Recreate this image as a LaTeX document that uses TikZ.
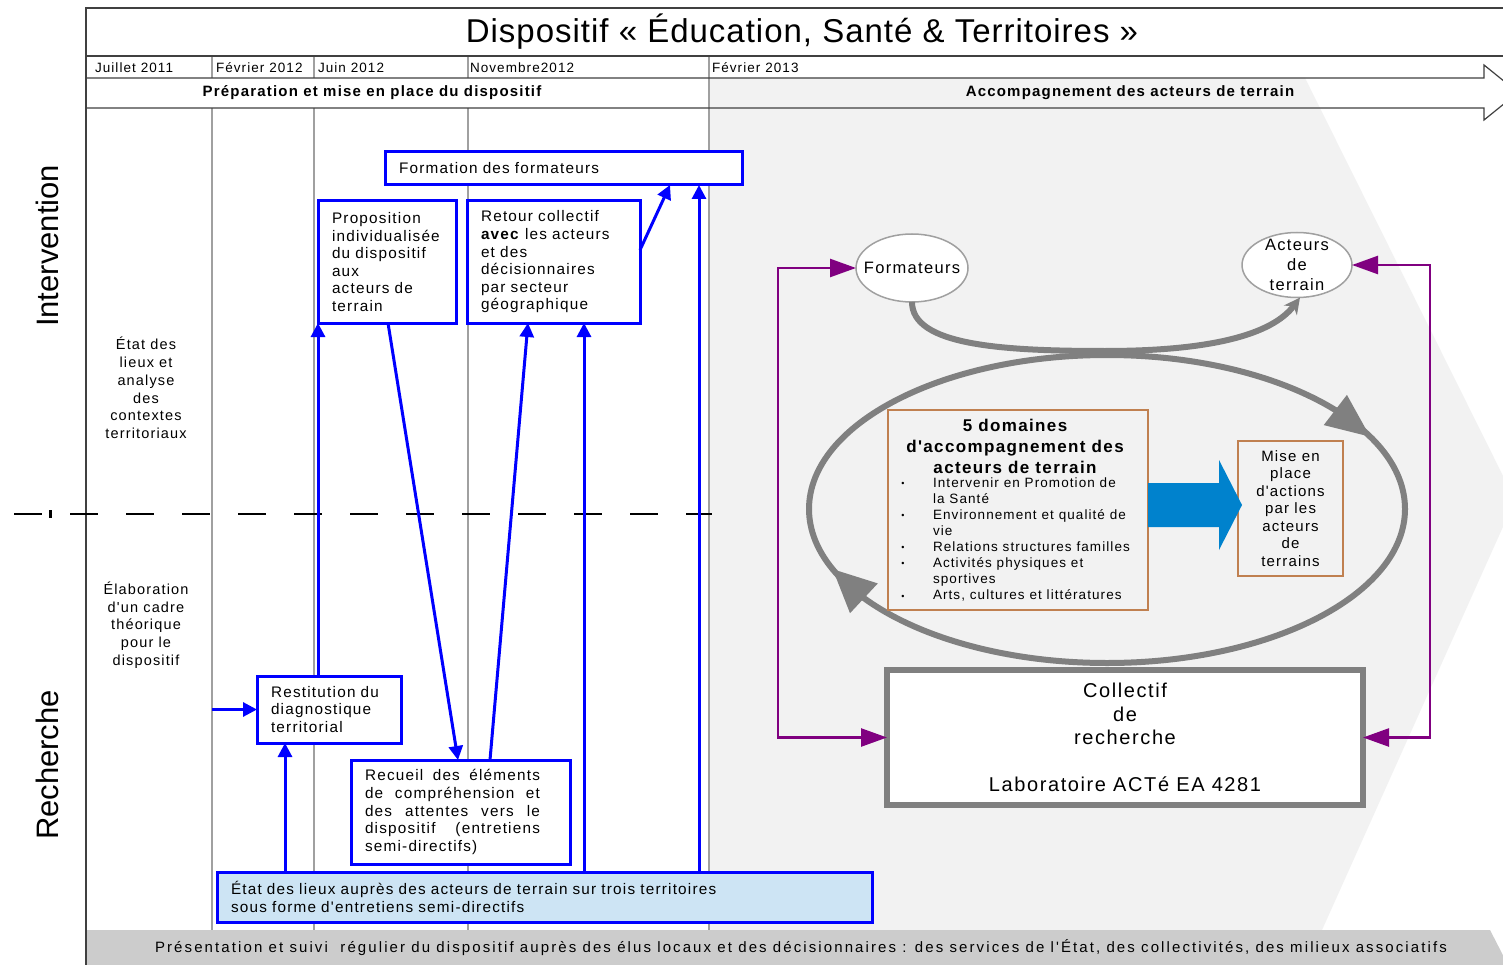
\documentclass[tikz,border=0pt]{standalone}
\usepackage{fontspec}
\setmainfont{Liberation Sans}[LetterSpace=8,Ligatures=TeXOff]
\newfontfamily\titlefont{Liberation Sans}[LetterSpace=3,Ligatures=TeXOff]
\newfontfamily\plainfont{Liberation Sans}[Ligatures=TeXOff]
\newfontfamily\widefont{Liberation Sans}[LetterSpace=14,Ligatures=TeXOff]
\usetikzlibrary{arrows.meta,shapes.geometric,calc}
\definecolor{bblue}{RGB}{0,0,255}
\definecolor{lblue}{RGB}{205,228,244}
\definecolor{arrblue}{RGB}{0,130,205}
\definecolor{brownb}{RGB}{192,128,80}
\definecolor{mpurple}{RGB}{128,0,128}
\definecolor{bgray}{RGB}{242,242,242}
\definecolor{bargray}{RGB}{204,204,204}
\definecolor{lgray}{RGB}{160,160,160}
\definecolor{dgray}{RGB}{128,128,128}
\definecolor{framec}{RGB}{64,64,64}
\newcommand\fsz[2]{\fontsize{#1}{#2}\selectfont}
\newcommand\jline[1]{\makebox[175pt][l]{#1}}
\tikzset{
  bbox/.style={draw=bblue, line width=3pt, fill=white, inner xsep=14pt, inner ysep=0pt, align=left, font=\fsz{15.3}{17.6}},
  barrow/.style={draw=bblue, line width=3pt, -{Triangle[length=14pt,width=14pt]}},
  parrow/.style={draw=mpurple, line width=2.5pt, {Triangle[length=26pt,width=18pt]}-{Triangle[length=26pt,width=18pt]}},
  gridline/.style={draw=lgray, line width=1.5pt},
  loopline/.style={draw=dgray, line width=6pt},
  oval/.style={ellipse, draw=lgray, line width=1.5pt, fill=white, inner sep=0pt},
  brownbox/.style={draw=brownb, line width=1.5pt},
  framel/.style={draw=framec, line width=1.2pt},
  datel/.style={anchor=west, font=\fsz{13.5}{16}},
}
\begin{document}
\begin{tikzpicture}[x=1pt,y=-1pt, every node/.style={inner sep=0pt, outer sep=0pt}]
\useasboundingbox (0,0) rectangle (1503,965);
\clip (0,0) rectangle (1503,965);
\fill[white] (0,0) rectangle (1503,965);
% background chevron and bottom bar
\fill[bgray] (709,78) -- (1305,78) -- (1515,500) -- (1322,930) -- (709,930) -- cycle;
\fill[bargray] (86,930) -- (1490,930) -- (1508,965) -- (86,965) -- cycle;
% grid
\foreach \x in {212,314,468} {
  \draw[gridline] (\x,56) -- (\x,78);
  \draw[gridline] (\x,108) -- (\x,930);
}
\draw[gridline] (709,56) -- (709,930);
% frame
\draw[framel] (1510,8) -- (86,8) -- (86,965);
\draw[framel] (86,56) -- (1510,56);
\draw[framel] (86,78) -- (1484,78) -- (1484,65) -- (1518,92.5) -- (1484,120) -- (1484,108) -- (86,108);
% title and dates
\node[font=\titlefont\fsz{33}{36}] (title) at (802,32) {Dispositif « Éducation, Santé \& Territoires »};
\node[datel] (d1) at (95,68) {Juillet 2011};
\node[datel] (d2) at (216,68) {Février 2012};
\node[datel] (d3) at (318,68) {Juin 2012};
\node[datel] (d4) at (470,68) {Novembre2012};
\node[datel] (d5) at (712,68) {Février 2013};
\node[font=\bfseries\fsz{15}{18}] (ph1) at (372,93) {Préparation et mise en place du dispositif};
\node[font=\bfseries\fsz{15}{18}] (ph2) at (1130,93) {Accompagnement des acteurs de terrain};
% side labels
\node[rotate=90, font=\plainfont\fsz{31}{31}] (intv) at (47,246) {Intervention};
\node[rotate=90, font=\plainfont\fsz{31}{31}] (rech) at (47,765) {Recherche};
\node[align=center, font=\fsz{14.5}{17.7}] (lab1) at (146,388) {État des\\lieux et\\analyse\\des\\contextes\\territoriaux};
\node[align=center, font=\fsz{14.5}{17.7}] (lab2) at (146,625) {Élaboration\\d'un cadre\\théorique\\pour le\\dispositif};
% dashed separator
\draw[black, line width=2pt, dash pattern=on 28pt off 28pt] (14,514) -- (712,514);
\draw[black, line width=3pt] (50,510) -- (50,518);
% bottom bar text
\node[font=\widefont\fsz{15}{18}] (bar) at (801,948) {Présentation et suivi\ \ régulier du dispositif auprès des élus locaux et des décisionnaires : des services de l'État, des collectivités, des milieux associatifs};
% blue boxes
\node[bbox, minimum width=357pt, minimum height=33pt, text width=329pt] (b1) at (563.5,168.5) {Formation des formateurs};
\node[bbox, minimum width=138pt, minimum height=122pt, text width=110pt] (b2) at (387,262) {Proposition\\individualisée\\du dispositif\\aux\\acteurs de\\terrain};
\node[bbox, minimum width=173pt, minimum height=122pt, text width=145pt] (b3) at (553.5,262) {Retour collectif\\\textbf{avec} les acteurs\\et des\\décisionnaires\\par secteur\\géographique};
\node[bbox, minimum width=144pt, minimum height=67pt, text width=116pt] (b4) at (329,709.5) {Restitution du\\diagnostique\\territorial};
\node[bbox, minimum width=219pt, minimum height=104pt, text width=191pt] (b5) at (460.5,812) {\jline{Recueil\hfill des\hfill éléments}\\\jline{de\hfill compréhension\hfill et}\\\jline{des\hfill attentes\hfill vers\hfill le}\\\jline{dispositif\hfill (entretiens}\\semi-directifs)};
\node[bbox, fill=lblue, minimum width=655pt, minimum height=50pt, text width=627pt] (b6) at (544.5,897) {État des lieux auprès des acteurs de terrain sur trois territoires\\sous forme d'entretiens semi-directifs};
\coordinate (c212) at (212,709.5);
% blue arrows
\draw[barrow] (c212) -- (b4.west);
\draw[barrow] ([xshift=68pt]b6.north west) -- ([xshift=28pt]b4.south west);
\draw[barrow] ([xshift=61pt]b4.north west) -- (b2.south west);
\draw[barrow] ([xshift=70pt]b2.south west) -- ([xshift=107pt]b5.north west);
\draw[barrow] ([xshift=139pt]b5.north west) -- ([xshift=61pt]b3.south west);
\draw[barrow] ([xshift=367pt]b6.north west) -- ([xshift=117pt]b3.south west);
\draw[barrow] ([yshift=-49pt]b3.north east) -- ([xshift=285pt]b1.south west);
\draw[barrow] ([xshift=482pt]b6.north west) -- ([xshift=314pt]b1.south west);
% big loop
\draw[loopline] (1107,509) ellipse [x radius=298pt, y radius=154pt];
\fill[dgray] (1370.1,436.7) -- (1323.7,425.1) -- (1346.9,394.9) -- cycle;
\fill[dgray] (832.7,569.2) -- (877.8,583.4) -- (850.0,613.2) -- cycle;
% right side nodes
\node[oval, minimum width=112pt, minimum height=68pt] (form) at (912,268) {};
\node[font=\fsz{16.5}{20}] (formt) at (form) {Formateurs};
\node[oval, minimum width=110pt, minimum height=65pt] (act) at (1297,265) {};
\node[align=center, font=\fsz{16.5}{20}] (actt) at (act) {Acteurs\\de\\terrain};
\node[brownbox, minimum width=260pt, minimum height=200pt] (dom) at (1018,510) {};
\node[align=center, font=\bfseries\fsz{17}{21}] (domt) at (1015,446) {5 domaines\\d'accompagnement des\\acteurs de terrain};
\node[anchor=west, align=left, font=\fsz{13.5}{16.1}] (doml) at (933,539.5) {Intervenir en Promotion de\\la Santé\\Environnement et qualité de\\vie\\Relations structures familles\\Activités physiques et\\sportives\\Arts, cultures et littératures};
\foreach \y [count=\i] in {484,516,548,564,597} {
  \node[font=\plainfont\fsz{9}{9}] (bu\i) at (903,\y) {•};
}
\node[brownbox, minimum width=105pt, minimum height=135pt, align=center, font=\fsz{15}{17.5}] (mise) at (1290.5,508.5) {Mise en\\place\\d'actions\\par les\\acteurs\\de\\terrains};
\fill[arrblue] (1148,483) -- (1219,483) -- (1219,460) -- (1242,505) -- (1219,550) -- (1219,527) -- (1148,527) -- cycle;
\node[draw=dgray, line width=6pt, fill=white, minimum width=476pt, minimum height=135pt, align=center, font=\fsz{20}{23.5}] (coll) at (1125,737.5) {Collectif\\de\\recherche\\\mbox{}\\Laboratoire ACTé EA 4281};
% connectors right
\draw[loopline, -{Stealth[length=16pt,width=16pt]}] (form.south) .. controls (912,345) and (1000,351) .. (1105,351) .. controls (1210,351) and (1272,335) .. ([xshift=3pt]act.south);
\draw[parrow] (form.west) -- ++(-78,0) |- (coll.west);
\draw[parrow] (act.east) -- ++(78,0) |- (coll.east);
\end{tikzpicture}
\end{document}
